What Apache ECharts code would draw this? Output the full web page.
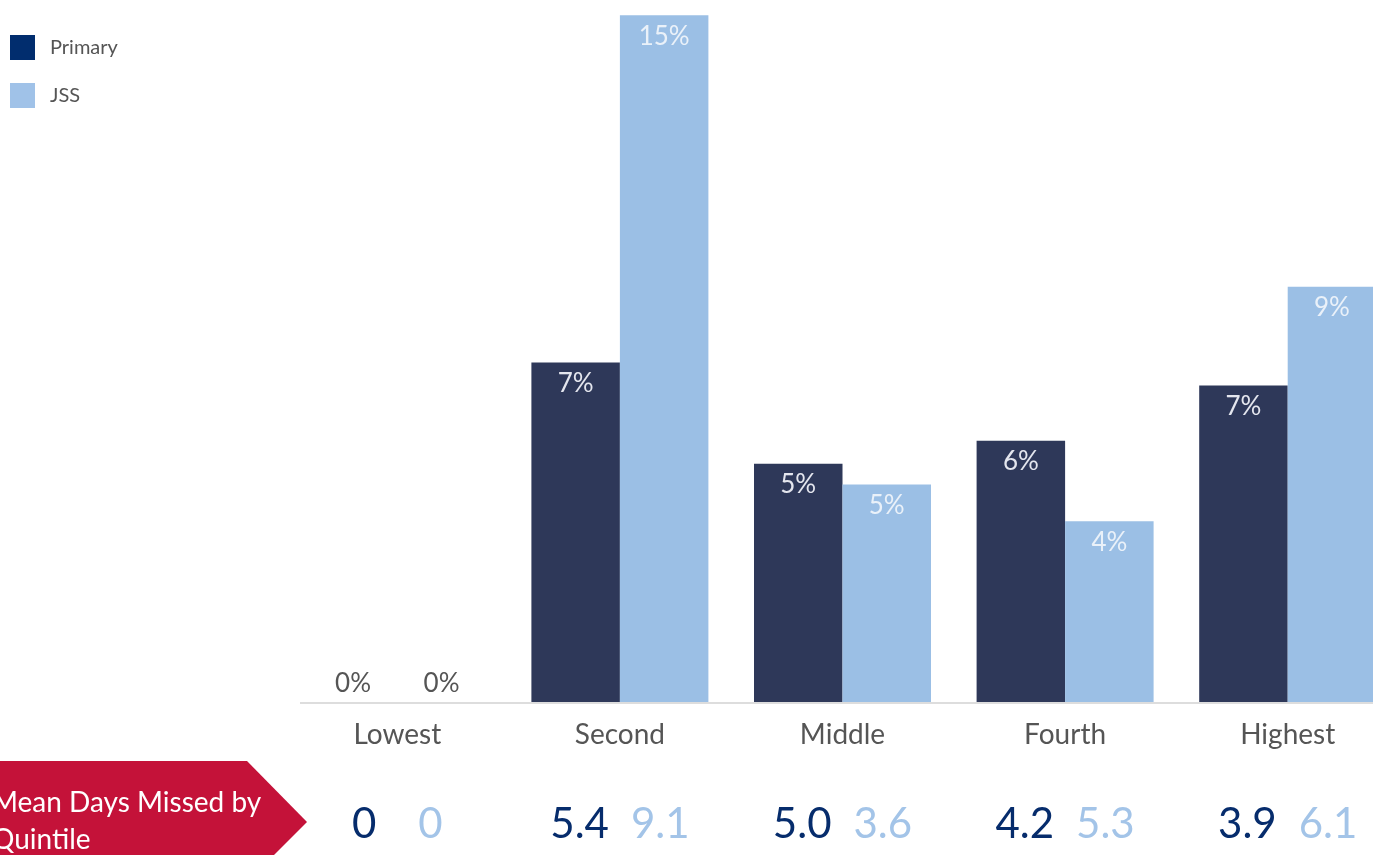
<!DOCTYPE html>
<html>
<head>
<meta charset="utf-8">
<script src="https://cdn.jsdelivr.net/npm/echarts@6/dist/echarts.min.js"></script>
<style>
html,body{margin:0;padding:0;background:#fff;overflow:hidden;width:1373px;height:855px;}
#chart{width:1399px;height:855px;}
</style>
</head>
<body>
<div id="chart"></div>
<script>
const categories = ['Lowest', 'Second', 'Middle', 'Fourth', 'Highest'];
const primaryPct = [0, 7.4, 5.2, 5.7, 6.9];
const jssPct = [0, 14.95, 4.75, 3.95, 9.05];
const primaryDays = ['0', '5.4', '5.0', '4.2', '3.9'];
const jssDays = ['0', '9.1', '3.6', '5.3', '6.1'];
const arrowText = 'Mean Days Missed by\nQuintile';

const FONT = 'Lato, "Open Sans", sans-serif';
const DARK_BAR = '#2E3859';
const LIGHT_BAR = '#9BBFE5';
const DARK_TXT = '#062C6C';
const LIGHT_TXT = '#A3C4E8';

function barData(vals) {
  return vals.map(v => v === 0
    ? {value: v, label: {position: 'top', color: '#555', distance: 6}}
    : v);
}

const chart = echarts.init(document.getElementById('chart'), null, {renderer: 'canvas'});
chart.setOption({
  animation: false,
  backgroundColor: '#fff',
  textStyle: {fontFamily: FONT},
  legend: {
    orient: 'vertical',
    left: 10, top: 35, padding: 0,
    itemWidth: 25, itemHeight: 25, itemGap: 23,
    textStyle: {fontSize: 20, color: '#555', fontFamily: FONT, padding: [0, 0, 0, 10]},
    data: [
      {name: 'Primary', icon: 'rect', itemStyle: {color: '#012D6E'}},
      {name: 'JSS', icon: 'rect', itemStyle: {color: '#A0C2E8'}}
    ]
  },
  grid: {left: 286, right: 0, top: 13, bottom: 152, containLabel: false},
  xAxis: [{
    type: 'category',
    data: categories,
    axisLine: {show: false},
    axisTick: {show: false},
    axisLabel: {fontSize: 28, color: '#555', fontFamily: FONT, margin: 18}
  }, {
    type: 'category',
    position: 'bottom',
    data: categories,
    axisLine: {show: false},
    axisTick: {show: false},
    axisLabel: {
      margin: 100,
      formatter: function (v, i) {
        const gap = primaryDays[i].length === 1 ? 'w' : 's';
        return '{a|' + primaryDays[i] + '}{' + gap + '|}{b|' + jssDays[i] + '}';
      },
      rich: {
        a: {fontSize: 42, color: DARK_TXT, fontFamily: FONT},
        s: {width: 22},
        w: {width: 42},
        b: {fontSize: 42, color: LIGHT_TXT, fontFamily: FONT}
      }
    }
  }],
  yAxis: {type: 'value', min: 0, max: 15, show: false, splitLine: {show: false}},
  series: [{
    name: 'Primary', type: 'bar', barWidth: 88.5, barGap: '0%',
    itemStyle: {color: DARK_BAR},
    label: {show: true, position: 'insideTop', distance: 8, fontSize: 26, color: '#E4E6EE', fontFamily: FONT,
      formatter: p => Math.round(p.value) + '%'},
    data: barData(primaryPct),
    markLine: {
      silent: true, symbol: 'none', label: {show: false},
      lineStyle: {color: '#DDDDDD', width: 2, type: 'solid'},
      data: [[{x: 300, yAxis: 0}, {x: 1399, yAxis: 0}]]
    },
    z: 2
  }, {
    name: 'JSS', type: 'bar', barWidth: 88.5, barGap: '0%',
    itemStyle: {color: LIGHT_BAR},
    label: {show: true, position: 'insideTop', distance: 8, fontSize: 26, color: '#EAF1F9', fontFamily: FONT,
      formatter: p => Math.round(p.value) + '%'},
    data: barData(jssPct),
    z: 2
  }],
  graphic: [{
    type: 'polygon',
    shape: {points: [[0, 761], [247, 761], [307, 822], [246, 883], [0, 883]]},
    style: {fill: '#C41239'},
    z: 1
  }, {
    type: 'text',
    left: -8, top: 784,
    style: {text: arrowText, fill: '#fff', font: '28px ' + FONT, lineHeight: 37},
    z: 2
  }]
});
</script>
</body>
</html>
